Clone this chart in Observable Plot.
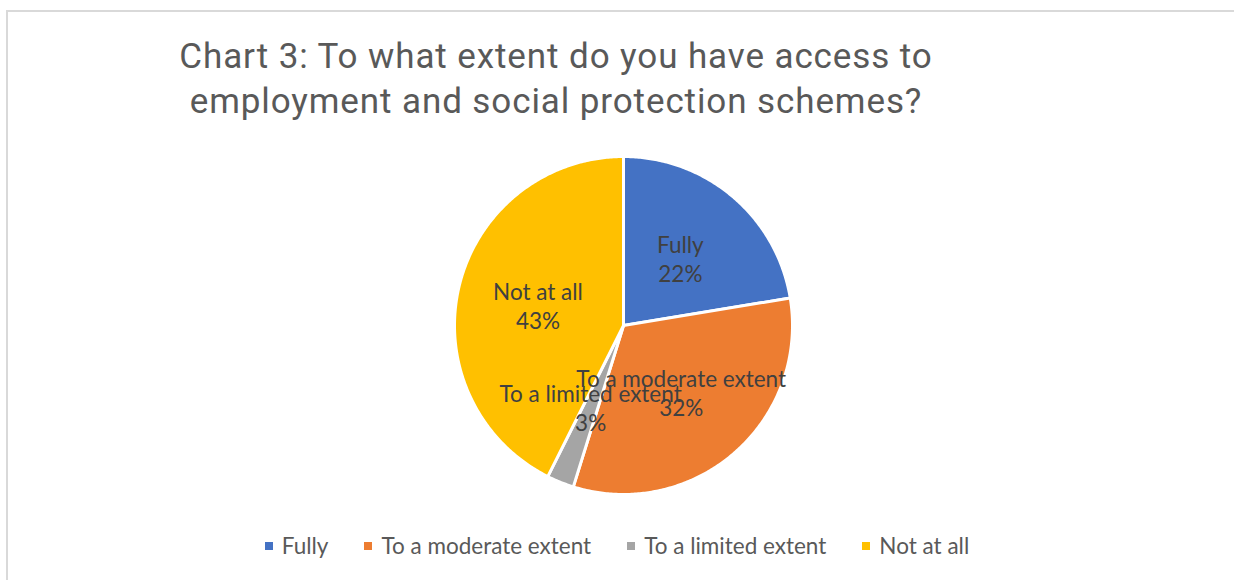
<!DOCTYPE html>
<html>
<head>
<meta charset="utf-8">
<script src="https://cdn.jsdelivr.net/npm/d3@7"></script>
<script src="https://cdn.jsdelivr.net/npm/@observablehq/plot@0.6"></script>
<style>
  html, body { margin: 0; padding: 0; background: #fff; }
  #chart { position: relative; width: 1234px; height: 580px; overflow: hidden; }
  #frame { position: absolute; left: 6px; top: 10px; right: -4px; bottom: -4px;
           border-top: 2px solid #d9d9d9; border-left: 2px solid #d9d9d9; }
  #title { position: relative; width: 1112px; padding-top: 34px; text-align: center;
           font-family: Roboto, sans-serif; font-weight: 400; letter-spacing: 0.9px;
           font-size: 35px; line-height: 45px; color: #595959; }
  #plot { position: relative; display: block; }
  #legend { position: relative; display: flex; justify-content: center; align-items: center;
            padding-top: 7px; font-family: Lato, sans-serif; font-size: 22.5px; line-height: 30px; color: #595959; }
  .item { display: flex; align-items: center; margin: 0 18px; }
  .sw { width: 8px; height: 8px; margin-right: 9px; }
</style>
</head>
<body>
<div id="chart">
  <div id="frame"></div>
  <div id="title"></div>
  <div id="plot"></div>
  <div id="legend"></div>
</div>
<script>
const titleLines = ["Chart 3: To what extent do you have access to", "employment and social protection schemes?"];
const categories = ["Fully", "To a moderate extent", "To a limited extent", "Not at all"];
const values = [22.4, 32.4, 2.6, 42.6];
const colors = ["#4472C4", "#ED7D31", "#A5A5A5", "#FFC000"];

document.getElementById("title").innerHTML = titleLines.join("<br>");

const arcs = d3.pie().sort(null).startAngle(0).endAngle(2 * Math.PI)(values);
const total = d3.sum(values);

const slices = arcs.map((a, i) => {
  const n = Math.max(2, Math.ceil((a.endAngle - a.startAngle) / 0.01));
  const ring = [[0, 0]];
  for (let k = 0; k <= n; k++) {
    const t = a.startAngle + (a.endAngle - a.startAngle) * k / n;
    ring.push([Math.sin(t), Math.cos(t)]);
  }
  ring.push([0, 0]);
  return {type: "Feature", properties: {category: categories[i]}, geometry: {type: "Polygon", coordinates: [ring]}};
});

const labelR = 0.52;
const labels = arcs.map((a, i) => {
  const m = (a.startAngle + a.endAngle) / 2;
  return {x: labelR * Math.sin(m), y: labelR * Math.cos(m),
          text: categories[i] + "\n" + d3.format(".0f")(values[i] / total * 100) + "%"};
});

const H = 400;
const plot = Plot.plot({
  width: 1234,
  height: H,
  marginLeft: 454,
  marginRight: 442,
  marginTop: 32,
  marginBottom: 30,
  projection: {type: "reflect-y", domain: {type: "MultiPoint", coordinates: [[-1, -1], [1, 1]]}},
  color: {domain: categories, range: colors},
  marks: [
    Plot.geo(slices, {fill: d => d.properties.category, stroke: "white", strokeWidth: 3, clip: false}),
    Plot.text(labels, {x: "x", y: "y", text: "text", fontSize: 22.5, lineHeight: 1.3,
                       fill: "#404040", fontFamily: "Lato", clip: false})
  ]
});
document.getElementById("plot").appendChild(plot);

const legend = document.getElementById("legend");
categories.forEach((c, i) => {
  const item = document.createElement("div");
  item.className = "item";
  const sw = document.createElement("div");
  sw.className = "sw";
  sw.style.background = plot.scale("color").apply(c);
  const tx = document.createElement("span");
  tx.textContent = c;
  item.appendChild(sw);
  item.appendChild(tx);
  legend.appendChild(item);
});
</script>
</body>
</html>
